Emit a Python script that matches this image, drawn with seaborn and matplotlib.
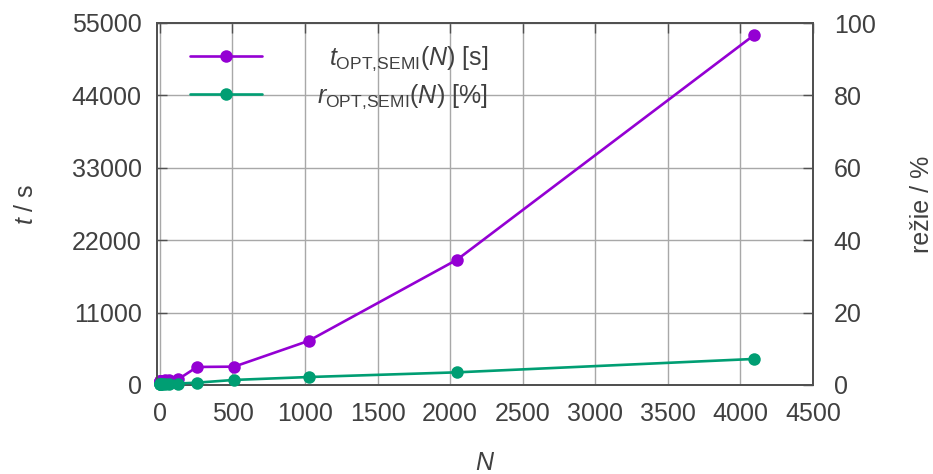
import matplotlib
matplotlib.use("Agg")
import matplotlib.pyplot as plt
import seaborn as sns
import pandas as pd
from matplotlib.lines import Line2D

# Problem sizes and measured quantities
N = [1, 2, 4, 8, 16, 32, 64, 128, 256, 512, 1024, 2048, 4096]
t_opt_semi = [600, 610, 630, 650, 670, 700, 740, 900, 2740, 2790, 6700, 19050, 53200]
r_opt_semi = [0.2, 0.2, 0.2, 0.2, 0.2, 0.2, 0.25, 0.4, 0.65, 1.4, 2.2, 3.5, 7.2]

x_ticks = [0, 500, 1000, 1500, 2000, 2500, 3000, 3500, 4000, 4500]
y_ticks = [0, 11000, 22000, 33000, 44000, 55000]
y2_ticks = [0, 20, 40, 60, 80, 100]

PURPLE = "#9400d3"
GREEN = "#009e73"
TEXT = "#404040"
FRAME = "#505050"

sns.set_theme(style="white")
plt.rcParams["font.family"] = ["Liberation Sans", "DejaVu Sans"]
plt.rcParams["mathtext.fontset"] = "custom"
plt.rcParams["mathtext.rm"] = "Liberation Sans"
plt.rcParams["mathtext.it"] = "Liberation Sans:italic"
plt.rcParams["text.color"] = TEXT
plt.rcParams["axes.labelcolor"] = TEXT
plt.rcParams["xtick.color"] = FRAME
plt.rcParams["ytick.color"] = FRAME
plt.rcParams["xtick.labelcolor"] = TEXT
plt.rcParams["ytick.labelcolor"] = TEXT

df = pd.DataFrame({"N": N, "t": t_opt_semi, "r": r_opt_semi})

fig = plt.figure(figsize=(9.33, 4.74), dpi=100)
ax = fig.add_axes([157 / 933, 89 / 474, 656 / 933, 362 / 474])
ax2 = ax.twinx()

LW = 1.9
MS = 9
line_kw = dict(marker="o", markersize=MS, linewidth=LW, markeredgewidth=0, clip_on=False)
sns.lineplot(data=df, x="N", y="t", ax=ax, color=PURPLE, zorder=4, **line_kw)
sns.lineplot(data=df, x="N", y="r", ax=ax2, color=GREEN, zorder=4, **line_kw)

ax.set_xlim(-20, 4500)
ax.set_ylim(0, 55000)
ax2.set_ylim(0, 100)
ax.set_xticks(x_ticks)
ax.set_yticks(y_ticks)
ax2.set_yticks(y2_ticks)
ax.set_xticklabels([str(v) for v in x_ticks])
ax.set_yticklabels([str(v) for v in y_ticks])
ax2.set_yticklabels([str(v) for v in y2_ticks])

ax.grid(True, color="#a8a8a8", linewidth=1.0)
ax.set_axisbelow(True)

for a in (ax, ax2):
    for sp in a.spines.values():
        sp.set_color(FRAME)
        sp.set_linewidth(1.3)
ax.tick_params(axis="x", which="major", direction="in", length=7, width=1.0,
               labelsize=18, pad=12, top=True)
ax.tick_params(axis="y", which="major", direction="in", length=7, width=1.0,
               labelsize=18, pad=11, right=False)
ax2.tick_params(axis="y", direction="in", length=7, width=1.0, labelsize=18, pad=15)

ax.set_xlabel(r"$N$", fontsize=18, labelpad=18)
ax.set_ylabel(r"$t$ / s", fontsize=18, labelpad=24)
ax2.set_ylabel("režie / %", fontsize=18, labelpad=25)

handles = [
    Line2D([], [], color=PURPLE, marker="o", markersize=MS, linewidth=LW, markeredgewidth=0),
    Line2D([], [], color=GREEN, marker="o", markersize=MS, linewidth=LW, markeredgewidth=0),
]
labels = [r"$t_{\mathrm{OPT{,}SEMI}}(N)$ [s]", r"$r_{\mathrm{OPT{,}SEMI}}(N)$ [%]"]
leg = ax2.legend(handles, labels, loc="upper left", bbox_to_anchor=(0.035, 0.968),
                 frameon=False, fontsize=18, handlelength=2.9, handletextpad=2.2,
                 labelspacing=0.40, borderaxespad=0)

# right-align the legend labels against the widest one
fig.canvas.draw()
renderer = fig.canvas.get_renderer()
widths = [t.get_window_extent(renderer).width for t in leg.get_texts()]
wmax = max(widths)
for t, w in zip(leg.get_texts(), widths):
    t.set_position((wmax - w, 0))

fig.savefig("out.png", dpi=100)
